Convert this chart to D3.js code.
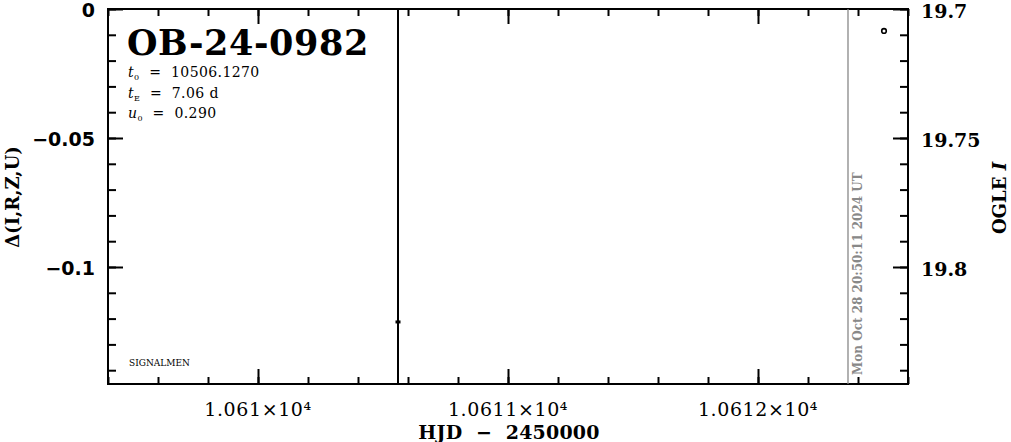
<!DOCTYPE html>
<html><head><meta charset="utf-8">
<script src="https://cdn.jsdelivr.net/npm/d3@7"></script>
<style>
body{margin:0;background:#fff;}
svg{display:block;}
</style></head><body>
<svg id="c" width="1011" height="442"></svg>
<script>
const eventName = "OB-24-0982";
const params = [["t","0","  =  10506.1270"],["t","E","  =  7.06 d"],["u","0","  =  0.290"]];
const xDomain = [10609.4, 10612.6];
const xMajor = [10610, 10611, 10612];
const xMajorLabels = ["1.061×10⁴", "1.0611×10⁴", "1.0612×10⁴"];
const leftDomain = [0, -0.14535];
const leftMajor = [0, -0.05, -0.1];
const leftLabels = ["0", "−0.05", "−0.1"];
const rightDomain = [19.7, 19.84535];
const rightMajor = [19.7, 19.75, 19.8];
const rightLabels = ["19.7", "19.75", "19.8"];
const ogleHJD = [10612.504];
const ogleMag = [19.7085];
const deltaHJD = [10610.56];
const deltaVal = [-0.1213];
const lastDataHJD = 10610.56;
const stampHJD = 10612.36;
const stampText = "Mon Oct 28 20:50:11 2024 UT";

const L=108,R=908,T=9,B=384;
const svg=d3.select("#c");
const x=d3.scaleLinear().domain(xDomain).range([L,R]);
const yl=d3.scaleLinear().domain(leftDomain).range([T,B]);
const yr=d3.scaleLinear().domain(rightDomain).range([T,B]);

const xMinor=d3.range(10609.4,10612.61,0.2).map(v=>+v.toFixed(1));
const lMinor=d3.range(0,-0.1455,-0.01).map(v=>+v.toFixed(2));
const rMinor=d3.range(19.7,19.846,0.01).map(v=>+v.toFixed(2));

function styleAxis(g){g.select(".domain").remove();g.selectAll("line").attr("stroke","#000").attr("stroke-width",2);g.selectAll("text").remove();}
svg.append("g").attr("transform",`translate(0,${B})`).call(d3.axisBottom(x).tickValues(xMinor).tickSize(-7)).call(styleAxis);
svg.append("g").attr("transform",`translate(0,${B})`).call(d3.axisBottom(x).tickValues(xMajor).tickSize(-15)).call(styleAxis);
svg.append("g").attr("transform",`translate(0,${T})`).call(d3.axisTop(x).tickValues(xMinor).tickSize(-7)).call(styleAxis);
svg.append("g").attr("transform",`translate(0,${T})`).call(d3.axisTop(x).tickValues(xMajor).tickSize(-15)).call(styleAxis);
svg.append("g").attr("transform",`translate(${L},0)`).call(d3.axisLeft(yl).tickValues(lMinor).tickSize(-8)).call(styleAxis);
svg.append("g").attr("transform",`translate(${L},0)`).call(d3.axisLeft(yl).tickValues(leftMajor).tickSize(-15)).call(styleAxis);
svg.append("g").attr("transform",`translate(${R},0)`).call(d3.axisRight(yr).tickValues(rMinor).tickSize(-8)).call(styleAxis);
svg.append("g").attr("transform",`translate(${R},0)`).call(d3.axisRight(yr).tickValues(rightMajor).tickSize(-15)).call(styleAxis);

svg.append("rect").attr("x",L).attr("y",T).attr("width",R-L).attr("height",B-T).attr("fill","none").attr("stroke","#000").attr("stroke-width",2);

const tickFont='"DejaVu Sans","Liberation Sans",sans-serif';
leftMajor.forEach((v,i)=>svg.append("text").attr("x",95).attr("y",yl(v)+8).attr("text-anchor","end")
  .attr("font-family",tickFont).attr("font-weight","bold").attr("font-size",19).text(leftLabels[i]));
rightMajor.forEach((v,i)=>svg.append("text").attr("x",921).attr("y",yr(v)+9).attr("text-anchor","start")
  .attr("font-family",'"DejaVu Serif",serif').attr("font-size",19).attr("font-weight","bold").text(rightLabels[i]));
xMajor.forEach((v,i)=>svg.append("text").attr("x",x(v)).attr("y",416).attr("text-anchor","middle")
  .attr("font-family",'"DejaVu Serif",serif').attr("font-size",19).attr("letter-spacing",0.6).text(xMajorLabels[i]));

svg.append("text").attr("x",509).attr("y",439).attr("text-anchor","middle").attr("font-family",'"DejaVu Serif",serif').attr("font-weight","bold").attr("font-size",19).attr("letter-spacing",0.2).attr("xml:space","preserve").text("HJD  −  2450000");
svg.append("text").attr("transform","translate(19,197) rotate(-90)").attr("text-anchor","middle").attr("font-family",'"DejaVu Serif",serif').attr("font-weight","bold").attr("font-size",18).text("Δ(I,R,Z,U)");
const rl=svg.append("text").attr("transform","translate(1006,198) rotate(-90)").attr("text-anchor","middle").attr("font-family",'"DejaVu Serif",serif').attr("font-weight","bold").attr("font-size",18);
rl.append("tspan").text("OGLE ");
rl.append("tspan").attr("font-style","italic").text("I");

svg.append("text").attr("x",127).attr("y",55).attr("font-family",'"DejaVu Serif",serif').attr("font-weight","bold").attr("font-size",35).attr("letter-spacing",0.6).text(eventName);
params.forEach((p,i)=>{
  const t=svg.append("text").attr("x",128).attr("y",77+i*20.5).attr("font-family",'"DejaVu Serif",serif').attr("font-size",14).attr("letter-spacing",0.4).attr("xml:space","preserve");
  t.append("tspan").attr("font-style","italic").text(p[0]);
  t.append("tspan").attr("font-size",8).attr("dy",3).text(p[1]);
  t.append("tspan").attr("dy",-3).text(p[2]);
});
svg.append("text").attr("x",129).attr("y",366).attr("font-family",'"DejaVu Serif",serif').attr("font-size",9).text("SIGNALMEN");

svg.append("line").attr("x1",x(lastDataHJD)).attr("x2",x(lastDataHJD)).attr("y1",T).attr("y2",B).attr("stroke","#000").attr("stroke-width",2);
svg.append("line").attr("x1",x(stampHJD)).attr("x2",x(stampHJD)).attr("y1",T).attr("y2",B).attr("stroke","#888").attr("stroke-width",1.3);
svg.append("text").attr("transform",`translate(${x(stampHJD)+14},${B-9}) rotate(-90)`).attr("font-family",'"DejaVu Serif",serif').attr("font-weight","bold").attr("font-size",12).attr("fill","#888").text(stampText);

deltaHJD.forEach((h,i)=>svg.append("rect").attr("x",x(h)-2.5).attr("y",yl(deltaVal[i])-1.5).attr("width",5).attr("height",3).attr("fill","#000"));
ogleHJD.forEach((h,i)=>svg.append("circle").attr("cx",x(h)).attr("cy",yr(ogleMag[i])).attr("r",2.3).attr("fill","none").attr("stroke","#000").attr("stroke-width",1.6));
</script></body></html>
